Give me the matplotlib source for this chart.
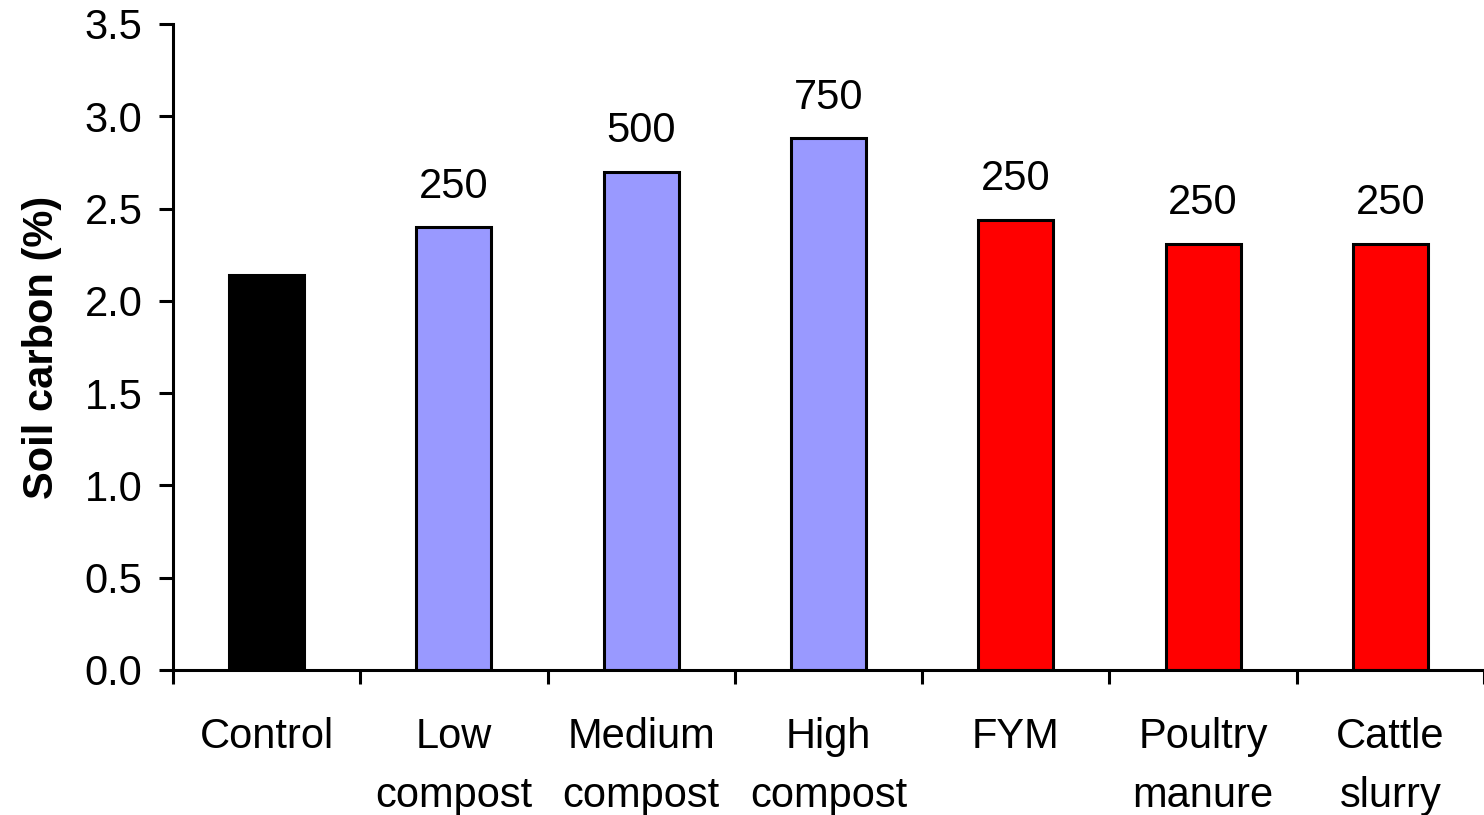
import numpy as np
import matplotlib
matplotlib.use('Agg')
import matplotlib.pyplot as plt

plt.rcParams['font.family'] = ['Liberation Sans', 'DejaVu Sans']

# treatments, soil carbon and application rate
treatments = ['Control', 'Low\ncompost', 'Medium\ncompost', 'High\ncompost',
              'FYM', 'Poultry\nmanure', 'Cattle\nslurry']
soil_carbon = [2.14, 2.40, 2.70, 2.88, 2.44, 2.31, 2.31]
rates = ['', '250', '500', '750', '250', '250', '250']
colours = ['#000000', '#9999FF', '#9999FF', '#9999FF', '#FF0000', '#FF0000', '#FF0000']

fs = 30

fig = plt.figure(figsize=(14.84, 8.15), dpi=100)
ax = fig.add_axes([0.1166, 0.178, 0.8834, 0.7926])

x = np.arange(len(treatments))
ax.bar(x, soil_carbon, width=0.4, color=colours, edgecolor='black', linewidth=2.2)

for xi, val, lab in zip(x, soil_carbon, rates):
	if lab:
		ax.annotate(lab, (xi, val), xytext=(0, 21), textcoords='offset points',
		            ha='center', va='baseline', fontsize=fs)

ax.set_xlim(-0.5, len(treatments) - 0.5)
ax.set_ylim(0, 3.5)
ax.set_yticks(np.arange(0, 3.51, 0.5))
ax.set_yticklabels(['%.1f' % v for v in np.arange(0, 3.51, 0.5)])

# labels at bar centres, ticks between the bars
ax.set_xticks(x)
ax.set_xticklabels(treatments, linespacing=1.6)
ax.set_xticks(np.arange(-0.5, len(treatments)), minor=True)
ax.tick_params(axis='x', which='major', length=0, pad=34, labelsize=fs)
ax.tick_params(axis='x', which='minor', length=10, width=2.2, direction='out')
ax.tick_params(axis='y', length=10, width=2.2, direction='out', pad=12, labelsize=fs)

ax.set_ylabel('Soil carbon (%)', fontsize=fs, fontweight='bold', labelpad=16)

for side in ['top', 'right']:
	ax.spines[side].set_visible(False)
for side in ['left', 'bottom']:
	ax.spines[side].set_linewidth(2.2)

fig.savefig('out.png', dpi=100)
